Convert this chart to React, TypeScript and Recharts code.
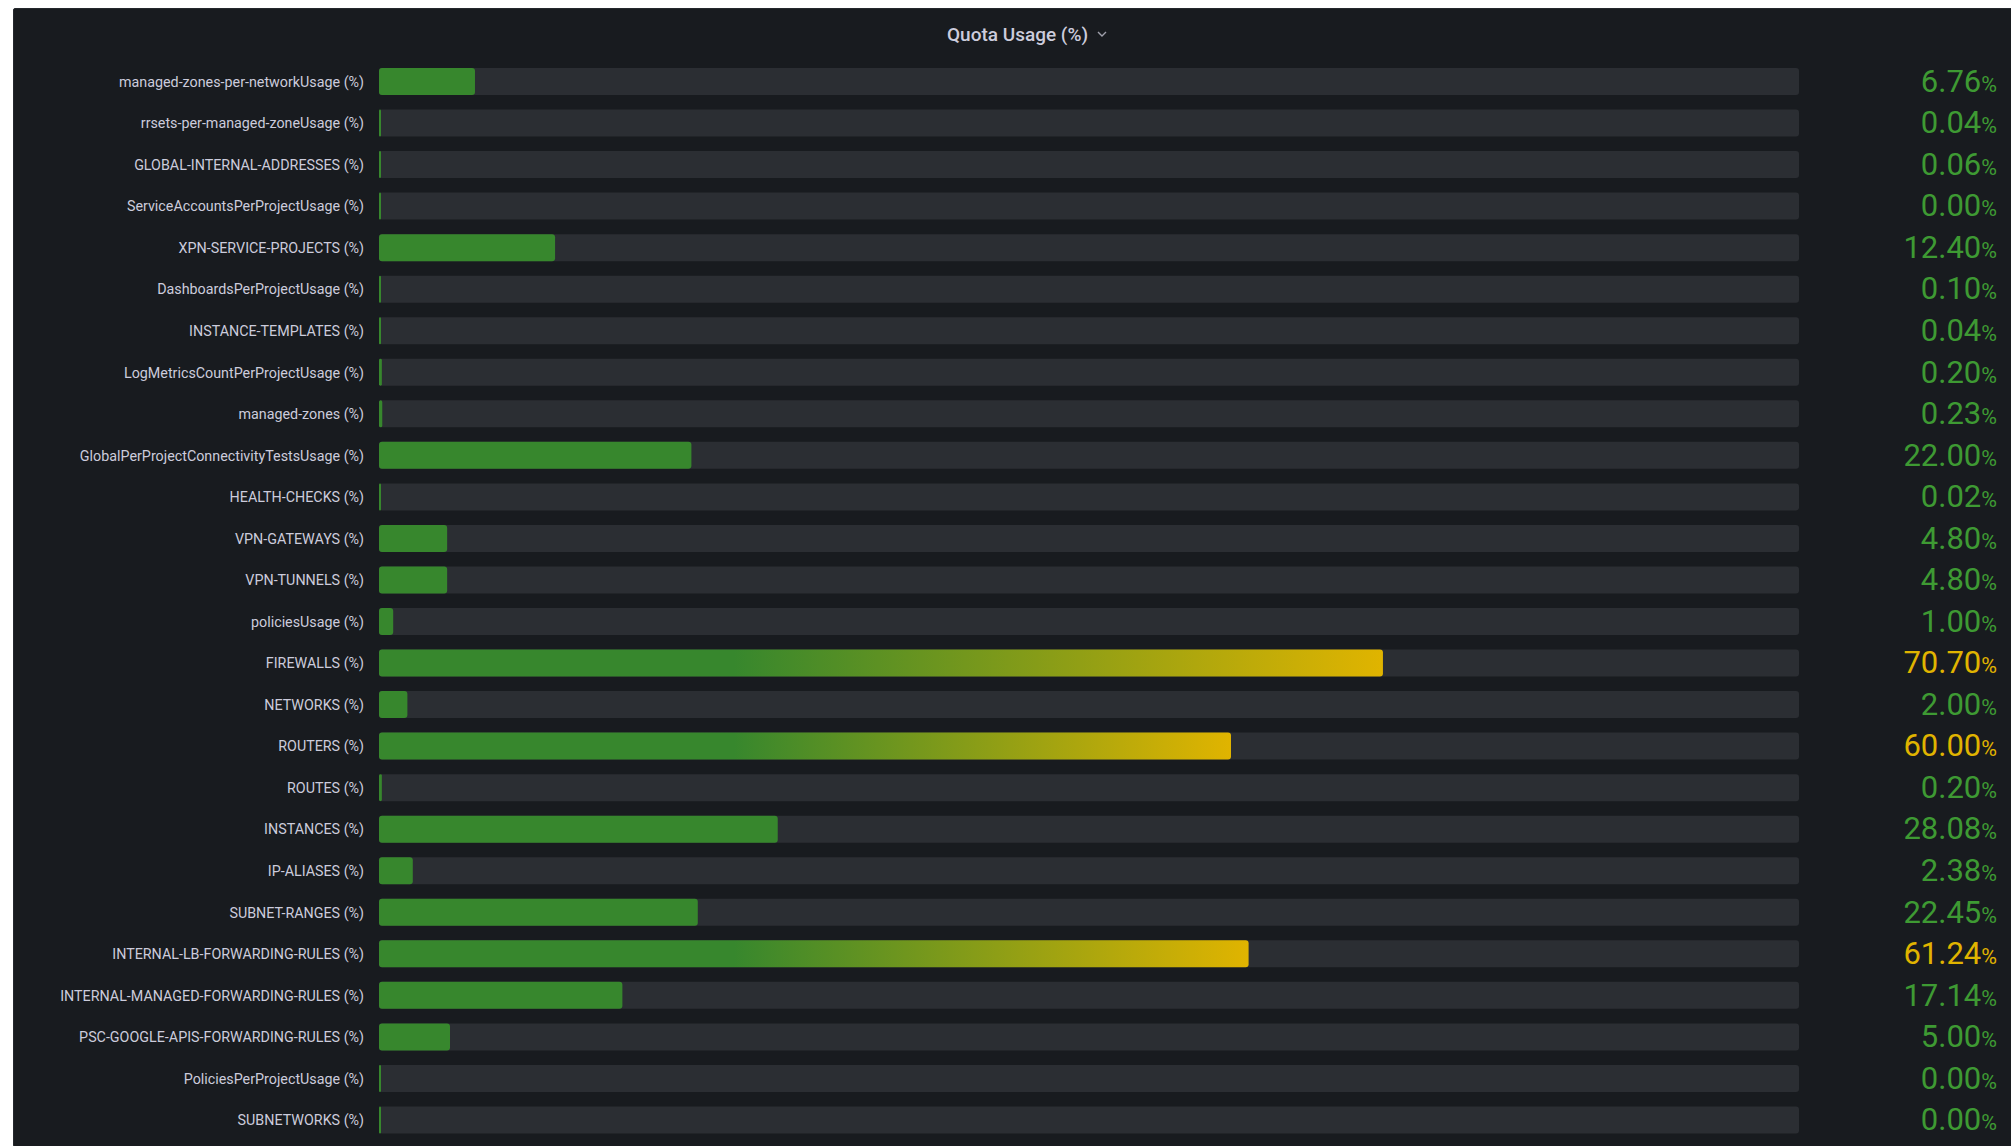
import { BarChart, Bar, XAxis, YAxis } from 'recharts'

const quotaNames = [
  'managed-zones-per-networkUsage (%)',
  'rrsets-per-managed-zoneUsage (%)',
  'GLOBAL-INTERNAL-ADDRESSES (%)',
  'ServiceAccountsPerProjectUsage (%)',
  'XPN-SERVICE-PROJECTS (%)',
  'DashboardsPerProjectUsage (%)',
  'INSTANCE-TEMPLATES (%)',
  'LogMetricsCountPerProjectUsage (%)',
  'managed-zones (%)',
  'GlobalPerProjectConnectivityTestsUsage (%)',
  'HEALTH-CHECKS (%)',
  'VPN-GATEWAYS (%)',
  'VPN-TUNNELS (%)',
  'policiesUsage (%)',
  'FIREWALLS (%)',
  'NETWORKS (%)',
  'ROUTERS (%)',
  'ROUTES (%)',
  'INSTANCES (%)',
  'IP-ALIASES (%)',
  'SUBNET-RANGES (%)',
  'INTERNAL-LB-FORWARDING-RULES (%)',
  'INTERNAL-MANAGED-FORWARDING-RULES (%)',
  'PSC-GOOGLE-APIS-FORWARDING-RULES (%)',
  'PoliciesPerProjectUsage (%)',
  'SUBNETWORKS (%)',
]

const quotaValues = [
  6.76, 0.04, 0.06, 0.0, 12.4, 0.1, 0.04, 0.2, 0.23, 22.0, 0.02, 4.8, 4.8,
  1.0, 70.7, 2.0, 60.0, 0.2, 28.08, 2.38, 22.45, 61.24, 17.14, 5.0, 0.0, 0.0,
]

// threshold where the colour switches from green to yellow
const WARN = 50

const GREEN = '#37872d'
const GREEN_TEXT = '#3e9a33'
const YELLOW = '#e0b400'
const LABEL = '#ccccdc'
const PANEL = '#181b1f'
const TRACK = '#2b2e33'

const data = quotaNames.map((name, i) => ({ name, value: quotaValues[i] }))

function GaugeBar(props: any) {
  const { x, y, height, index } = props
  const value = quotaValues[index]
  const w = Math.max(props.width || 0, 2)
  const r = Math.min(3, w / 2)
  if (value < WARN) {
    return <rect x={x} y={y} width={w} height={height} rx={r} ry={r} fill={GREEN} />
  }
  const id = `gauge-grad-${index}`
  return (
    <g>
      <defs>
        <linearGradient id={id} x1="0" y1="0" x2="1" y2="0">
          <stop offset="0" stopColor={GREEN} />
          <stop offset={WARN / 2 / value} stopColor={GREEN} />
          <stop offset="1" stopColor={YELLOW} />
        </linearGradient>
      </defs>
      <rect x={x} y={y} width={w} height={height} rx={r} ry={r} fill={`url(#${id})`} />
    </g>
  )
}

function NameTick({ x, y, payload }: any) {
  return (
    <text x={x} y={y} dy={5} textAnchor="end" fill={LABEL} fontSize={14.3} fontFamily="Roboto">
      {payload.value}
    </text>
  )
}

function ValueTick({ x, y, payload }: any) {
  const v = quotaValues[payload.index]
  const color = v >= WARN ? YELLOW : GREEN_TEXT
  return (
    <text x={x + 198} y={y} dy={10} textAnchor="end" fill={color} fontFamily="Roboto">
      <tspan fontSize={31}>{v.toFixed(2)}</tspan>
      <tspan fontSize={21.5}>%</tspan>
    </text>
  )
}

export default function App() {
  return (
    <div
      style={{
        position: 'absolute',
        left: 0,
        top: 0,
        width: 2011,
        height: 1146,
        background: '#ffffff',
        overflow: 'hidden',
      }}
    >
      <div
        style={{
          position: 'absolute',
          left: 13,
          top: 8,
          width: 2011,
          height: 1137,
          background: PANEL,
          border: '1px solid #25282d',
          borderRadius: 2,
        }}
      />
      <div
        style={{
          position: 'absolute',
          left: 947,
          top: 21,
          height: 26,
          display: 'flex',
          alignItems: 'center',
          gap: 9,
          fontFamily: 'Roboto',
          fontWeight: 500,
          fontSize: 19,
          color: LABEL,
          whiteSpace: 'nowrap',
        }}
      >
        <span>Quota Usage (%)</span>
        <svg width={10} height={8} viewBox="0 0 10 8">
          <polyline points="1,2 5,6 9,2" fill="none" stroke="#9fa0ab" strokeWidth={1.4} />
        </svg>
      </div>
      <div style={{ position: 'absolute', left: 0, top: 0 }}>
        <BarChart
          width={2011}
          height={1146}
          data={data}
          layout="vertical"
          margin={{ top: 61, right: 0, bottom: 5, left: 0 }}
        >
          <XAxis type="number" domain={[0, 100]} hide />
          <YAxis
            type="category"
            dataKey="name"
            width={379}
            interval={0}
            axisLine={false}
            tickLine={false}
            tickSize={0}
            tickMargin={15}
            tick={<NameTick />}
          />
          <YAxis
            yAxisId="right"
            orientation="right"
            type="category"
            dataKey="name"
            width={212}
            interval={0}
            axisLine={false}
            tickLine={false}
            tickSize={0}
            tickMargin={0}
            tick={<ValueTick />}
          />
          <Bar
            dataKey="value"
            barSize={27}
            background={{ fill: TRACK, radius: 3 }}
            shape={GaugeBar}
            isAnimationActive={false}
          />
        </BarChart>
      </div>
    </div>
  )
}
